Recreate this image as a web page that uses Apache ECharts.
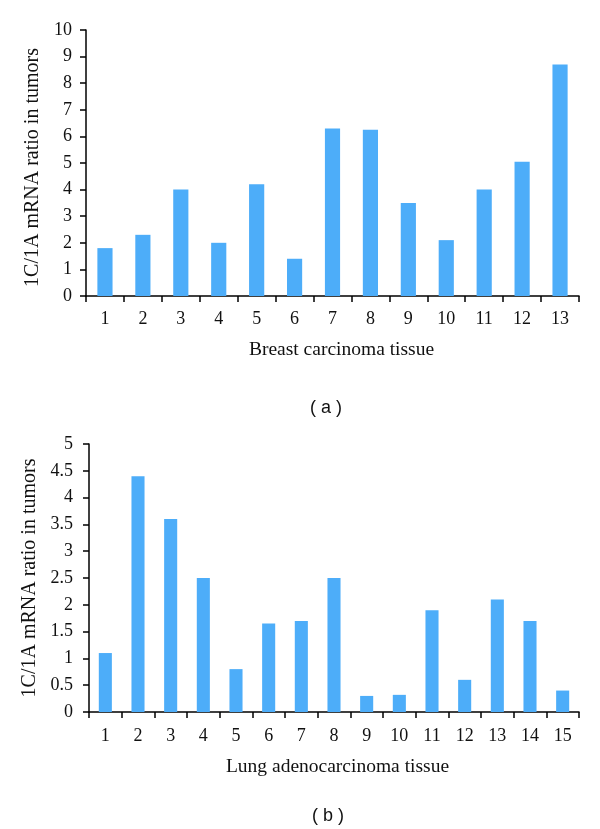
<!DOCTYPE html>
<html>
<head>
<meta charset="utf-8">
<script src="https://cdn.jsdelivr.net/npm/echarts@6/dist/echarts.min.js"></script>
<style>html,body{margin:0;padding:0;background:#fff;}#c{width:600px;height:829px;}</style>
</head>
<body>
<div id="c"></div>
<script>
var breastCategories = ['1','2','3','4','5','6','7','8','9','10','11','12','13'];
var breastValues = [1.8, 2.3, 4.0, 2.0, 4.2, 1.4, 6.3, 6.25, 3.5, 2.1, 4.0, 5.05, 8.7];
var lungCategories = ['1','2','3','4','5','6','7','8','9','10','11','12','13','14','15'];
var lungValues = [1.1, 4.4, 3.6, 2.5, 0.8, 1.65, 1.7, 2.5, 0.3, 0.32, 1.9, 0.6, 2.1, 1.7, 0.4];
var yAxisName = '1C/1A mRNA ratio in tumors';
var xNameA = 'Breast carcinoma tissue';
var xNameB = 'Lung adenocarcinoma tissue';
var panelA = '( a )';
var panelB = '( b )';

var serif = 'Liberation Serif';
var barColor = '#4dadf9';
var axisLine = {show: true, lineStyle: {color: '#000', width: 1.5}};
var axisTick = {show: true, length: 6, inside: false, lineStyle: {color: '#000', width: 1.5}};
var labelStyle = {color: '#111', fontFamily: serif, fontSize: 18};

var chart = echarts.init(document.getElementById('c'));
chart.setOption({
  animation: false,
  backgroundColor: '#fff',
  title: [
    {text: panelA, left: 321, top: 394, textAlign: 'center',
     textStyle: {fontFamily: 'Liberation Sans', fontWeight: 'normal', fontSize: 18, color: '#111'}},
    {text: panelB, left: 323, top: 802, textAlign: 'center',
     textStyle: {fontFamily: 'Liberation Sans', fontWeight: 'normal', fontSize: 18, color: '#111'}}
  ],
  grid: [
    {left: 86, right: 21, top: 30, height: 266},
    {left: 89, right: 21, top: 444, height: 268}
  ],
  xAxis: [
    {type: 'category', gridIndex: 0, data: breastCategories,
     axisLine: axisLine, axisTick: axisTick,
     axisLabel: Object.assign({margin: 14}, labelStyle),
     name: xNameA, nameLocation: 'middle', nameGap: 44,
     nameTextStyle: {fontFamily: serif, fontSize: 19.5, color: '#111', padding: [0, 0, 0, 18]}},
    {type: 'category', gridIndex: 1, data: lungCategories,
     axisLine: axisLine, axisTick: axisTick,
     axisLabel: Object.assign({margin: 15}, labelStyle),
     name: xNameB, nameLocation: 'middle', nameGap: 45,
     nameTextStyle: {fontFamily: serif, fontSize: 19.5, color: '#111', padding: [0, 0, 0, 7]}}
  ],
  yAxis: [
    {type: 'value', gridIndex: 0, min: 0, max: 10, interval: 1,
     axisLine: axisLine, axisTick: axisTick, splitLine: {show: false},
     axisLabel: Object.assign({margin: 14}, labelStyle),
     name: yAxisName, nameLocation: 'middle', nameGap: 43, nameRotate: 90,
     nameTextStyle: {fontFamily: serif, fontSize: 20, color: '#111', padding: [0, 9, 0, 0]}},
    {type: 'value', gridIndex: 1, min: 0, max: 5, interval: 0.5,
     axisLine: axisLine, axisTick: axisTick, splitLine: {show: false},
     axisLabel: Object.assign({margin: 16}, labelStyle),
     name: yAxisName, nameLocation: 'middle', nameGap: 47, nameRotate: 90,
     nameTextStyle: {fontFamily: serif, fontSize: 20, color: '#111'}}
  ],
  series: [
    {type: 'bar', xAxisIndex: 0, yAxisIndex: 0, data: breastValues,
     barWidth: '40%', itemStyle: {color: barColor}},
    {type: 'bar', xAxisIndex: 1, yAxisIndex: 1, data: lungValues,
     barWidth: '40%', itemStyle: {color: barColor}}
  ]
});
</script>
</body>
</html>
